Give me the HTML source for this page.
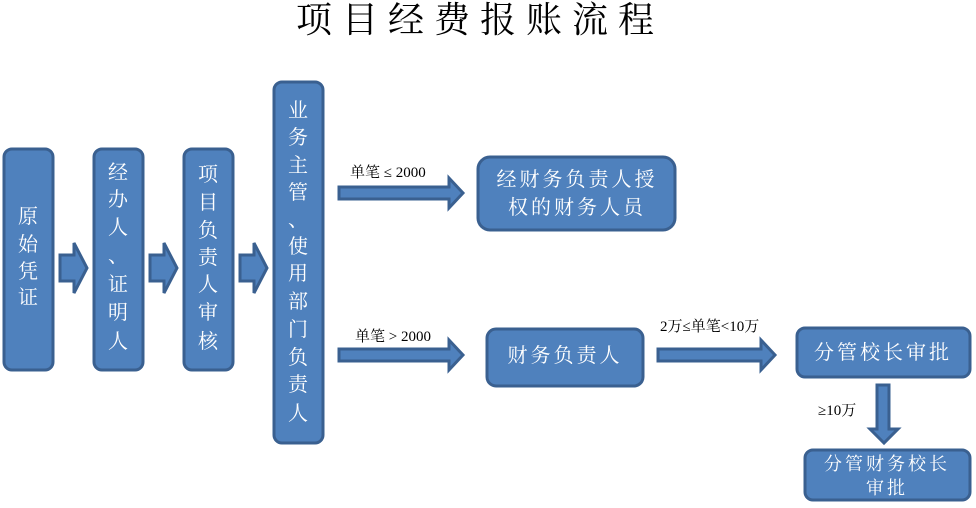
<!DOCTYPE html>
<html><head><meta charset="utf-8"><style>
html,body{margin:0;padding:0;background:#fff;}
svg{display:block;}
.t{font-family:"Liberation Serif","Noto Serif CJK SC",serif;fill:#fff;font-size:20px;text-anchor:middle;dominant-baseline:central;}
.l{font-family:"Liberation Serif","Noto Serif CJK SC",serif;fill:#000;font-size:15px;}
</style></head><body>
<svg width="976" height="508" xmlns="http://www.w3.org/2000/svg">
<text x="480" y="20" font-family="Liberation Serif,Noto Serif CJK SC,serif" font-size="36" text-anchor="middle" dominant-baseline="central" letter-spacing="10">项目经费报账流程</text>
<g fill="#4f81bd" stroke="#3a6090" stroke-width="3">
<rect x="4" y="149" width="49" height="221" rx="8"/>
<rect x="94" y="149" width="49" height="221" rx="8"/>
<rect x="184" y="149" width="49" height="221" rx="8"/>
<rect x="274" y="82" width="49" height="361" rx="8"/>
<rect x="478" y="157" width="197" height="73" rx="12"/>
<rect x="487" y="329" width="156" height="57" rx="9"/>
<rect x="797" y="328" width="173" height="49" rx="8"/>
<rect x="805" y="450" width="165" height="50" rx="8"/>
<path d="M60 255h14v-12l13 25-13 25v-12h-14z"/>
<path d="M150 255h14v-12l13 25-13 25v-12h-14z"/>
<path d="M240 255h14v-12l13 25-13 25v-12h-14z"/>
<path d="M339 187h110v-9l14 15-14 15v-9h-110z"/>
<path d="M339 349h110v-9l14 15-14 15v-9h-110z"/>
<path d="M658 349h103v-9l14 15-14 15v-9h-103z"/>
<path d="M877 385h12v44h9l-14 14-14-14h7z"/>
</g>
<g class="t">
<text x="28" y="217">原</text><text x="28" y="245">始</text><text x="28" y="272">凭</text><text x="28" y="298">证</text>
<text x="118" y="173">经</text><text x="118" y="200">办</text><text x="118" y="228">人</text><text x="118" y="256">、</text><text x="118" y="285">证</text><text x="118" y="313">明</text><text x="118" y="342">人</text>
<text x="208" y="175">项</text><text x="208" y="203">目</text><text x="208" y="231">负</text><text x="208" y="258">责</text><text x="208" y="285">人</text><text x="208" y="313">审</text><text x="208" y="342">核</text>
<text x="298" y="111">业</text><text x="298" y="138">务</text><text x="298" y="166">主</text><text x="298" y="193">管</text><text x="298" y="220">、</text><text x="298" y="247">使</text><text x="298" y="274">用</text><text x="298" y="302">部</text><text x="298" y="330">门</text><text x="298" y="358">负</text><text x="298" y="385">责</text><text x="298" y="414">人</text>
<text x="577" y="180" letter-spacing="3">经财务负责人授</text>
<text x="577" y="208" letter-spacing="3">权的财务人员</text>
<text x="565" y="356" letter-spacing="3">财务负责人</text>
<text x="883" y="353" letter-spacing="3">分管校长审批</text>
<text x="887" y="464" font-size="18" letter-spacing="3">分管财务校长</text>
<text x="887" y="488" font-size="18" letter-spacing="3">审批</text>
</g>
<text class="l" x="350" y="177">单笔 ≤ 2000</text>
<text class="l" x="355" y="341">单笔 &gt; 2000</text>
<text class="l" x="660" y="331">2万≤单笔&lt;10万</text>
<text class="l" x="818" y="415">≥10万</text>
</svg>
</body></html>
